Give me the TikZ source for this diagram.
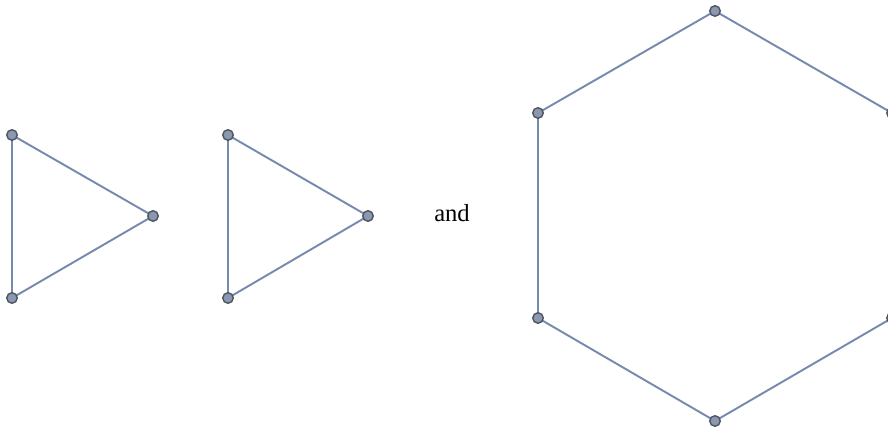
\documentclass[tikz,border=0pt]{standalone}
\usepackage{fontspec}
\setmainfont{Liberation Serif}
\usepackage{tikz}
\usetikzlibrary{positioning,backgrounds}

\definecolor{edgecol}{RGB}{118,138,176}
\definecolor{vertfill}{RGB}{138,152,178}
\definecolor{vertline}{RGB}{80,84,92}

\tikzset{
    vert/.style={circle, draw=vertline, fill=vertfill, line width=0.8pt, inner sep=0pt, minimum size=6pt},
    edge/.style={draw=edgecol, line width=1.1pt}
}

\begin{document}
\begin{tikzpicture}[x=0.02cm, y=-0.02cm]
    \useasboundingbox (0,0) rectangle (888,431);
    \clip (0,0) rectangle (888,431);
    % first triangle
    \node[vert] (a1) at (12,135) {};
    \node[vert] (a2) at (153,216) {};
    \node[vert] (a3) at (12,298) {};
    % second triangle
    \node[vert] (b1) at (228,135) {};
    \node[vert] (b2) at (368,216) {};
    \node[vert] (b3) at (228,298) {};
    \node[font=\fontsize{14}{16}\selectfont] (and) at (452,213) {and};
    % hexagon
    \node[vert] (h1) at (715,11) {};
    \node[vert] (h2) at (538,113) {};
    \node[vert] (h3) at (538,318) {};
    \node[vert] (h4) at (715,421) {};
    \node[vert] (h5) at (892,318) {};
    \node[vert] (h6) at (892,113) {};
    % edges
    \begin{scope}[on background layer]
    \foreach \u/\v in {a1/a2,a2/a3,a3/a1,b1/b2,b2/b3,b3/b1,h1/h2,h2/h3,h3/h4,h4/h5,h5/h6,h6/h1} {
        \path[edge] (\u.center) -- (\v.center);
    }
    \end{scope}
\end{tikzpicture}
\end{document}
